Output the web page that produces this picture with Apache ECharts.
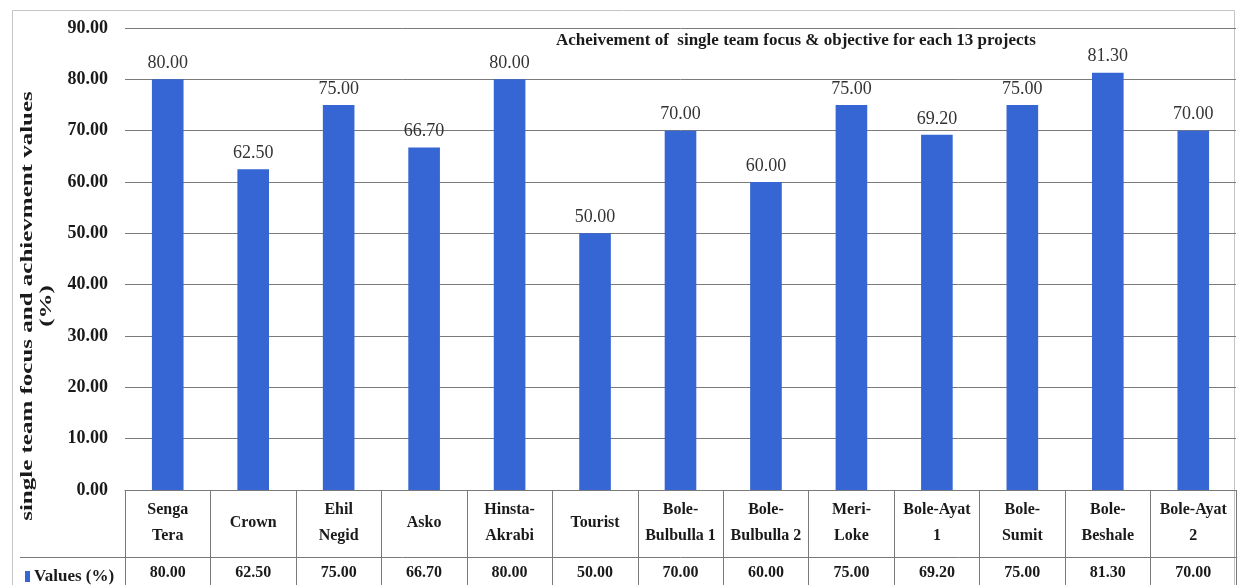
<!DOCTYPE html>
<html>
<head>
<meta charset="utf-8">
<style>
  html, body { margin: 0; padding: 0; background: #ffffff; }
  #chart { width: 1238px; height: 585px; }
</style>
<script src="https://cdn.jsdelivr.net/npm/echarts@6/dist/echarts.min.js"></script>
</head>
<body>
<div id="chart"></div>
<script>
// Project names (line breaks as shown in the table header row)
const categories = [
  'Senga\nTera', 'Crown', 'Ehil\nNegid', 'Asko', 'Hinsta-\nAkrabi', 'Tourist',
  'Bole-\nBulbulla 1', 'Bole-\nBulbulla 2', 'Meri-\nLoke', 'Bole-Ayat\n1',
  'Bole-\nSumit', 'Bole-\nBeshale', 'Bole-Ayat\n2'
];
// Achievement values (%) per project
const values = [80.00, 62.50, 75.00, 66.70, 80.00, 50.00, 70.00, 60.00, 75.00, 69.20, 75.00, 81.30, 70.00];
// Value axis range
const yMin = 0;
const yMax = 90;
const yStep = 10;

const seriesName = 'Values (%)';
const serif = '"Liberation Serif", "Times New Roman", serif';
const lineGrey = '#7a7a7a';

const chart = echarts.init(document.getElementById('chart'), null, { renderer: 'canvas' });

chart.setOption({
  backgroundColor: '#ffffff',
  animation: false,
  title: {
    text: 'Acheivement of  single team focus & objective for each 13 projects',
    left: 551,
    top: 27,
    textStyle: { fontFamily: serif, fontWeight: 'bold', fontSize: 17, color: '#1a1a1a' }
  },
  legend: {
    data: [seriesName],
    left: 20,
    top: 563,
    icon: 'rect',
    itemWidth: 5,
    itemHeight: 11,
    itemGap: 4,
    textStyle: { fontFamily: serif, fontWeight: 'bold', fontSize: 17, color: '#1a1a1a', padding: [0, 0, 0, -1] }
  },
  grid: {
    left: 125,
    right: 2,
    top: 28,
    bottom: 95,
    outerBoundsMode: 'none'
  },
  xAxis: [
    {
      type: 'category',
      data: categories,
      position: 'bottom',
      axisLine: { show: true, lineStyle: { color: lineGrey, width: 1 } },
      axisTick: { show: true, interval: 0, length: 95, lineStyle: { color: lineGrey, width: 1 } },
      axisLabel: {
        interval: 0,
        margin: 33,
        verticalAlign: 'middle',
        fontFamily: serif,
        fontWeight: 'bold',
        fontSize: 16,
        lineHeight: 26,
        color: '#1a1a1a'
      },
      splitLine: { show: false }
    },
    {
      type: 'category',
      data: categories,
      position: 'bottom',
      offset: 67,
      axisLine: { show: true, lineStyle: { color: lineGrey, width: 1 } },
      axisTick: { show: false },
      axisLabel: {
        interval: 0,
        margin: 16,
        verticalAlign: 'middle',
        fontFamily: serif,
        fontWeight: 'bold',
        fontSize: 16,
        color: '#1a1a1a',
        formatter: (v, i) => values[i].toFixed(2)
      },
      splitLine: { show: false }
    }
  ],
  yAxis: {
    type: 'value',
    min: yMin,
    max: yMax,
    interval: yStep,
    axisLine: { show: false },
    axisTick: { show: false },
    axisLabel: {
      margin: 17,
      fontFamily: serif,
      fontWeight: 'bold',
      fontSize: 18,
      color: '#1a1a1a',
      formatter: v => v.toFixed(2)
    },
    splitLine: { show: true, lineStyle: { color: lineGrey, width: 1 } }
  },
  graphic: [
    {
      type: 'rect',
      silent: true,
      shape: { x: 12.5, y: 10.5, width: 1222, height: 600 },
      style: { fill: 'none', stroke: '#c4c4c4', lineWidth: 1 }
    },
    {
      type: 'line',
      silent: true,
      shape: { x1: 20, y1: 557.5, x2: 125, y2: 557.5 },
      style: { stroke: lineGrey, lineWidth: 1 }
    },
    {
      // vertical axis title, widely spaced along the axis
      type: 'text',
      silent: true,
      x: 37,
      y: 306,
      rotation: Math.PI / 2,
      scaleX: 1.47,
      style: {
        text: 'single team focus and achievment values\n(%)',
        fontFamily: serif,
        fontWeight: 'bold',
        fontSize: 17,
        lineHeight: 19,
        align: 'center',
        verticalAlign: 'middle',
        fill: '#1a1a1a'
      }
    }
  ],
  series: [
    {
      name: seriesName,
      type: 'bar',
      xAxisIndex: 0,
      data: values,
      barWidth: '37%',
      itemStyle: { color: '#3566d4' },
      label: {
        show: true,
        position: 'top',
        distance: 7,
        fontFamily: serif,
        fontSize: 18,
        color: '#333333',
        formatter: p => p.value.toFixed(2)
      }
    }
  ]
});
</script>
</body>
</html>
